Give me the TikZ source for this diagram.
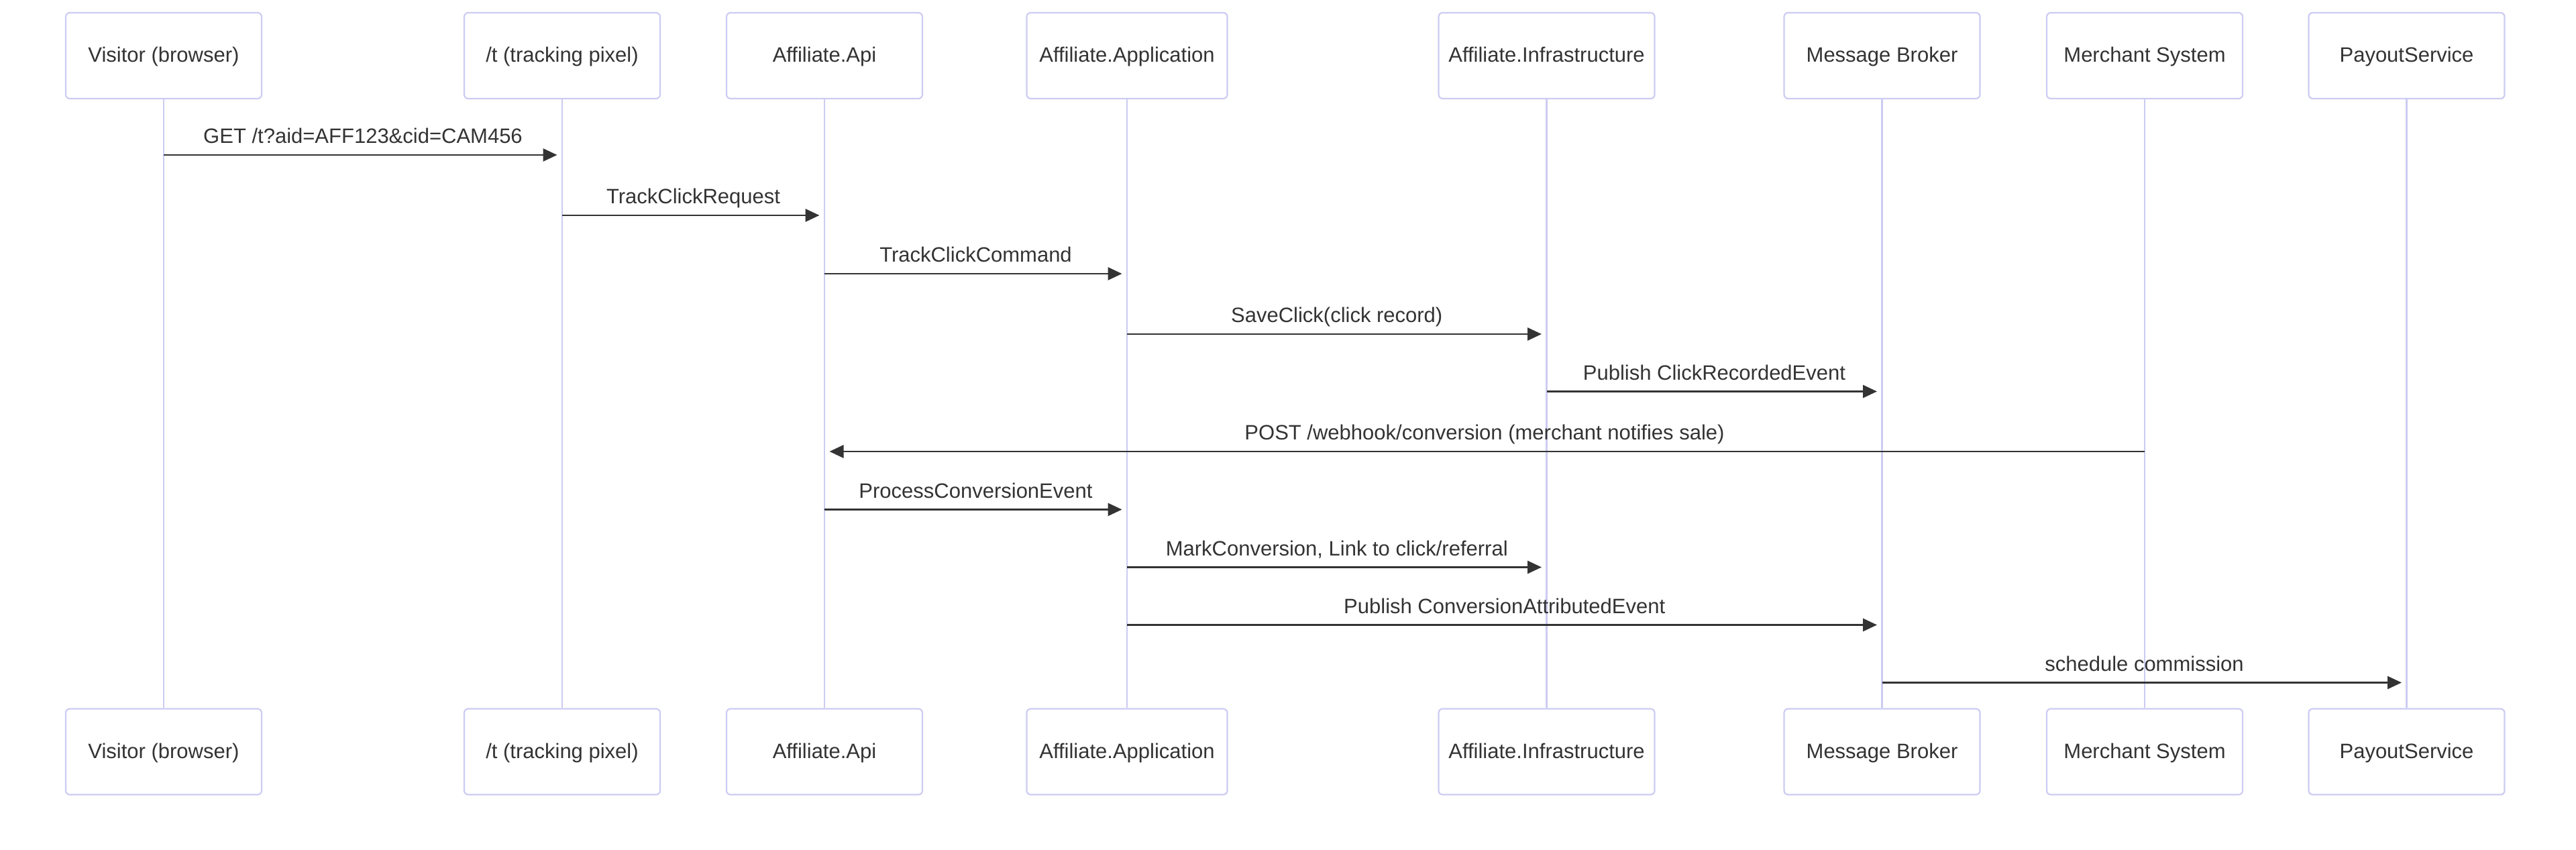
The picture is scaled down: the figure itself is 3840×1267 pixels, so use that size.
\documentclass[tikz,border=0pt]{standalone}
\usepackage{fontspec}
\setmainfont{Liberation Sans}
\usetikzlibrary{arrows.meta}
\definecolor{actorline}{RGB}{204,204,242}
\definecolor{txt}{RGB}{51,51,51}
\begin{document}
\begin{tikzpicture}[x=0.5pt,y=-0.5pt,
  actor/.style={draw=actorline, line width=1.1pt, fill=white, rounded corners=3pt,
    minimum height=64pt, minimum width=146pt, text=txt, inner sep=0pt,
    text height=13pt, text depth=3pt,
    font=\fontsize{15.5}{18}\selectfont},
  life/.style={draw=actorline, line width=1.4pt},
  msg/.style={draw=txt, line width=1.4pt, -{Triangle[length=10.5pt,width=9.5pt]}, shorten >=3.75pt},
  lbl/.style={text=txt, font=\fontsize{15.5}{18}\selectfont, anchor=base, yshift=8.7pt, inner sep=0pt}
]
\useasboundingbox (0,0) rectangle (3840,1267);

% participants (top and bottom)
\node[actor] (vT) at (244,83) {Visitor (browser)};
\node[actor] (vB) at (244,1120.5) {Visitor (browser)};
\node[actor] (tT) at (838,83) {/t (tracking pixel)};
\node[actor] (tB) at (838,1120.5) {/t (tracking pixel)};
\node[actor] (aT) at (1229,83) {Affiliate.Api};
\node[actor] (aB) at (1229,1120.5) {Affiliate.Api};
\node[actor, minimum width=149.5pt] (pT) at (1680,83) {Affiliate.Application};
\node[actor, minimum width=149.5pt] (pB) at (1680,1120.5) {Affiliate.Application};
\node[actor, minimum width=161pt] (iT) at (2305.5,83) {Affiliate.Infrastructure};
\node[actor, minimum width=161pt] (iB) at (2305.5,1120.5) {Affiliate.Infrastructure};
\node[actor] (bT) at (2805.5,83) {Message Broker};
\node[actor] (bB) at (2805.5,1120.5) {Message Broker};
\node[actor] (mT) at (3197,83) {Merchant System};
\node[actor] (mB) at (3197,1120.5) {Merchant System};
\node[actor] (sT) at (3587.5,83) {PayoutService};
\node[actor] (sB) at (3587.5,1120.5) {PayoutService};

% lifelines
\foreach \p in {v,t,a,p,i,b,m,s}{
  \draw[life] (\p T.south) -- (\p B.north);
}

% message rows
\coordinate (m1) at (0,231);
\coordinate (m2) at (0,321);
\coordinate (m3) at (0,408);
\coordinate (m4) at (0,498);
\coordinate (m5) at (0,583.5);
\coordinate (m6) at (0,673);
\coordinate (m7) at (0,759.5);
\coordinate (m8) at (0,845.5);
\coordinate (m9) at (0,931.5);
\coordinate (m10) at (0,1017.5);

\draw[msg] (vT |- m1) -- node[lbl] {GET /t?aid=AFF123\&cid=CAM456} (tT |- m1);
\draw[msg] (tT |- m2) -- node[lbl] {TrackClickRequest} (aT |- m2);
\draw[msg] (aT |- m3) -- node[lbl] {TrackClickCommand} (pT |- m3);
\draw[msg] (pT |- m4) -- node[lbl] {SaveClick(click record)} (iT |- m4);
\draw[msg] (iT |- m5) -- node[lbl] {Publish ClickRecordedEvent} (bT |- m5);
\draw[msg] (mT |- m6) -- node[lbl] {POST /webhook/conversion (merchant notifies sale)} (aT |- m6);
\draw[msg] (aT |- m7) -- node[lbl] {ProcessConversionEvent} (pT |- m7);
\draw[msg] (pT |- m8) -- node[lbl] {MarkConversion, Link to click/referral} (iT |- m8);
\draw[msg] (pT |- m9) -- node[lbl] {Publish ConversionAttributedEvent} (bT |- m9);
\draw[msg] (bT |- m10) -- node[lbl] {schedule commission} (sT |- m10);
\end{tikzpicture}
\end{document}
